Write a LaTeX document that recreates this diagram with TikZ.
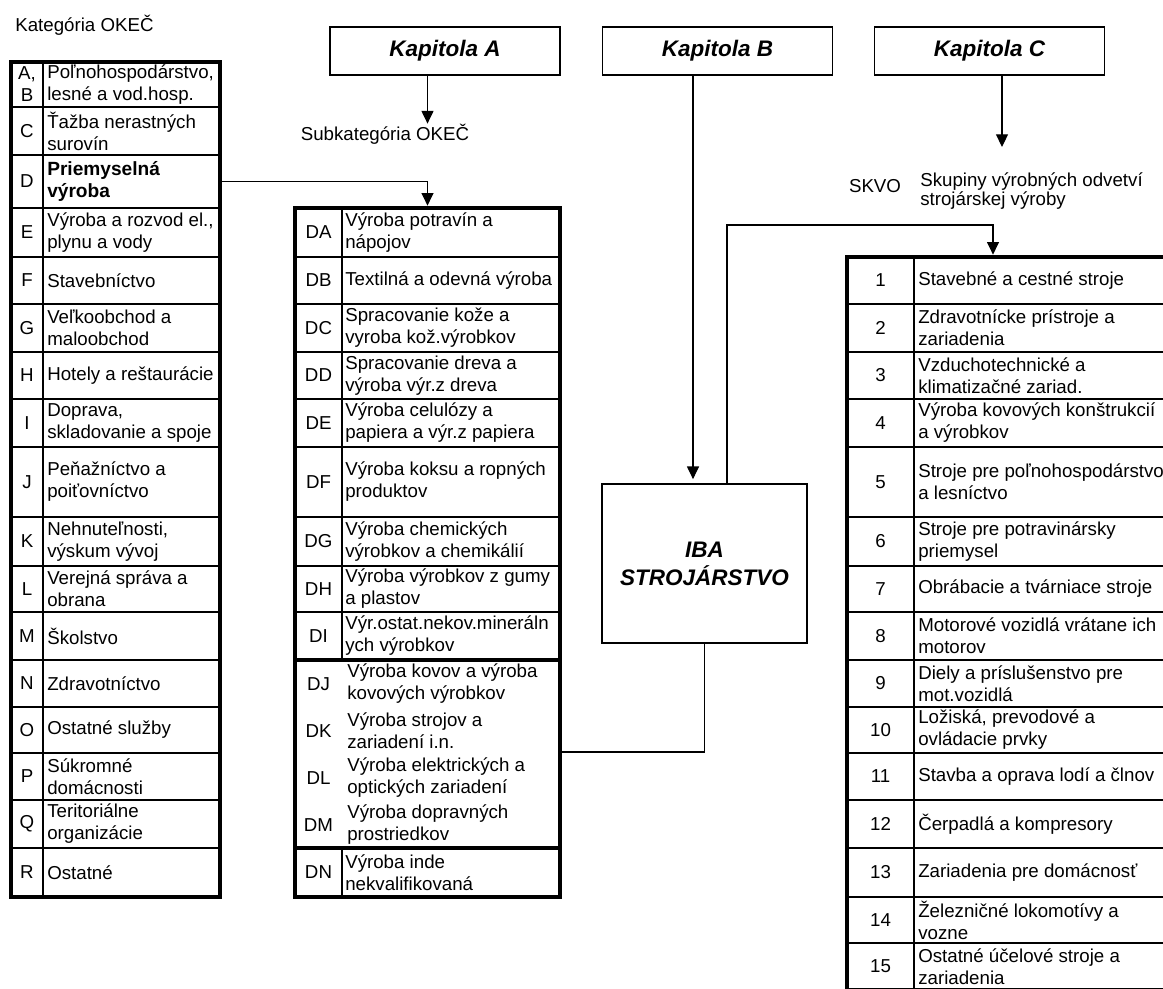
\documentclass[tikz,border=0pt]{standalone}
\usepackage{fontspec}
\setmainfont{Liberation Sans}
\usetikzlibrary{arrows.meta}

\begin{document}
\begin{tikzpicture}[x=0.025cm, y=-0.025cm,
    font=\fontsize{13.3}{15.6}\selectfont,
    arr/.style={-{Triangle[width=8.5pt,length=9pt]}, line width=0.8pt},
    link/.style={line width=0.8pt},
    kap/.style={draw, line width=0.9pt, minimum width=5.75cm, minimum height=1.2cm,
        font=\fontsize{16}{19}\selectfont\bfseries\itshape},
    tabframe/.style={draw, line width=3.2pt, inner sep=0pt},
    rowsep/.style={line width=1.5pt},
    thinsep/.style={line width=0.8pt},
    heavysep/.style={line width=2.8pt},
    divider/.style={line width=1.3pt},
    code/.style={inner sep=0pt, align=center},
    cell/.style={inner sep=0pt, anchor=west, align=left}]
    \useasboundingbox (0,0) rectangle (1163,988);
    \clip (0,0) rectangle (1163,988);

    % chapters
    \node[kap] (kapA) at (445,51) {Kapitola A};
    \node[kap] (kapB) at (717.5,51) {Kapitola B};
    \node[kap] (kapC) at (989.5,51) {Kapitola C};

    \node[anchor=west, inner sep=0pt] (kat) at (15,25) {Kategória OKEČ};
    \node[inner sep=0pt] (subkat) at (385,134) {Subkategória OKEČ};
    \node[inner sep=0pt] (skvolab) at (875,186) {SKVO};
    \node[cell, font=\fontsize{13.3}{14}\selectfont] (skup) at (920,191) {Skupiny výrobných odvetví\\strojárskej výroby};

    \node[draw, line width=0.9pt, minimum width=5.125cm, minimum height=3.975cm, align=center,
        font=\fontsize{16}{20}\selectfont\bfseries\itshape] (iba) at (704.5,563.5) {IBA\\STROJÁRSTVO};

    % table frames
    \node[tabframe, minimum width=5.225cm, minimum height=20.875cm] (okec) at (115.5,479.5) {};
    \node[tabframe, minimum width=6.625cm, minimum height=17.225cm] (subok) at (427.5,552.5) {};
    \node[tabframe, minimum width=9.825cm, minimum height=18.325cm] (skvo) at (1043.5,623.5) {};

    % left table
    \foreach \y in {155,208,257,304,352,399,447,517,612,660,707,753,800,848}
        \draw[rowsep] (11,\y) -- (220,\y);
    \foreach \y in {107,566}
        \draw[thinsep] (11,\y) -- (220,\y);
    \draw[divider] (43,62) -- (43,897);

    \node[code] (kAB) at (27,84.5) {A,\\B};
    \node[cell] (tAB) at (47,84.5) {Poľnohospodárstvo,\\lesné a vod.hosp.};
    \node[code] (kC) at (27,131) {C};
    \node[cell] (tC) at (47,131) {Ťažba nerastných\\surovín};
    \node[code] (kD) at (27,181.5) {D};
    \node[cell, font=\fontsize{13.6}{15.6}\selectfont\bfseries] (tD) at (47,181.5) {Priemyselná\\výroba};
    \node[code] (kE) at (27,232.5) {E};
    \node[cell] (tE) at (47,232.5) {Výroba a rozvod el.,\\plynu a vody};
    \node[code] (kF) at (27,280.5) {F};
    \node[cell] (tF) at (47,280.5) {Stavebníctvo};
    \node[code] (kG) at (27,328) {G};
    \node[cell] (tG) at (47,328) {Veľkoobchod a\\maloobchod};
    \node[code] (kH) at (27,375.5) {H};
    \node[cell] (tH) at (47,375.5) {Hotely a reštaurácie};
    \node[code] (kI) at (27,423) {I};
    \node[cell] (tI) at (47,423) {Doprava,\\skladovanie a spoje};
    \node[code] (kJ) at (27,482) {J};
    \node[cell] (tJ) at (47,482) {Peňažníctvo a\\poiťovníctvo};
    \node[code] (kK) at (27,541.5) {K};
    \node[cell] (tK) at (47,541.5) {Nehnuteľnosti,\\výskum vývoj};
    \node[code] (kL) at (27,589) {L};
    \node[cell] (tL) at (47,589) {Verejná správa a\\obrana};
    \node[code] (kM) at (27,636) {M};
    \node[cell] (tM) at (47,636) {Školstvo};
    \node[code] (kN) at (27,683.5) {N};
    \node[cell] (tN) at (47,683.5) {Zdravotníctvo};
    \node[code] (kO) at (27,730) {O};
    \node[cell] (tO) at (47,730) {Ostatné služby};
    \node[code] (kP) at (27,776.5) {P};
    \node[cell] (tP) at (47,776.5) {Súkromné\\domácnosti};
    \node[code] (kQ) at (27,824) {Q};
    \node[cell] (tQ) at (47,824) {Teritoriálne\\organizácie};
    \node[code] (kR) at (27,872.5) {R};
    \node[cell] (tR) at (47,872.5) {Ostatné};

    % middle table
    \foreach \y in {257,304,447,517}
        \draw[rowsep] (295,\y) -- (560,\y);
    \foreach \y in {352,399,566,612}
        \draw[thinsep] (295,\y) -- (560,\y);
    \foreach \y in {660,848}
        \draw[heavysep] (295,\y) -- (560,\y);
    \draw[divider] (342,208) -- (342,660);
    \draw[divider] (342,848) -- (342,897);

    \node[code] (kDA) at (318.5,232.5) {DA};
    \node[cell] (tDA) at (345,232.5) {Výroba potravín a\\nápojov};
    \node[code] (kDB) at (318.5,280.5) {DB};
    \node[cell] (tDB) at (345,280.5) {Textilná a odevná výroba};
    \node[code] (kDC) at (318.5,328) {DC};
    \node[cell] (tDC) at (345,328) {Spracovanie kože a\\vyroba kož.výrobkov};
    \node[code] (kDD) at (318.5,375.5) {DD};
    \node[cell] (tDD) at (345,375.5) {Spracovanie dreva a\\výroba výr.z dreva};
    \node[code] (kDE) at (318.5,423) {DE};
    \node[cell] (tDE) at (345,423) {Výroba celulózy a\\papiera a výr.z papiera};
    \node[code] (kDF) at (318.5,482) {DF};
    \node[cell] (tDF) at (345,482) {Výroba koksu a ropných\\produktov};
    \node[code] (kDG) at (318.5,541.5) {DG};
    \node[cell] (tDG) at (345,541.5) {Výroba chemických\\výrobkov a chemikálií};
    \node[code] (kDH) at (318.5,589) {DH};
    \node[cell] (tDH) at (345,589) {Výroba výrobkov z gumy\\a plastov};
    \node[code] (kDI) at (318.5,636) {DI};
    \node[cell] (tDI) at (345,636) {Výr.ostat.nekov.mineráln\\ych výrobkov};
    \node[code] (kDJ) at (318.5,684) {DJ};
    \node[cell] (tDJ) at (347,684) {Výroba kovov a výroba\\kovových výrobkov};
    \node[code] (kDK) at (318.5,731) {DK};
    \node[cell] (tDK) at (347,731) {Výroba strojov a\\zariadení i.n.};
    \node[code] (kDL) at (318.5,778) {DL};
    \node[cell] (tDL) at (347,778) {Výroba elektrických a\\optických zariadení};
    \node[code] (kDM) at (318.5,825) {DM};
    \node[cell] (tDM) at (347,825) {Výroba dopravných\\prostriedkov};
    \node[code] (kDN) at (318.5,872.5) {DN};
    \node[cell] (tDN) at (345,872.5) {Výroba inde\\nekvalifikovaná};

    % right table
    \foreach \y in {352,399,447,517,566,612,660,707,753,800,848,897,943}
        \draw[rowsep] (847,\y) -- (1240,\y);
    \draw[thinsep] (847,304) -- (1240,304);
    \draw[divider] (914,257) -- (914,990);

    \node[code] (k1) at (880.5,280.5) {1};
    \node[cell] (t1) at (918,280.5) {Stavebné a cestné stroje};
    \node[code] (k2) at (880.5,328) {2};
    \node[cell] (t2) at (918,328) {Zdravotnícke prístroje a\\zariadenia};
    \node[code] (k3) at (880.5,375.5) {3};
    \node[cell] (t3) at (918,375.5) {Vzduchotechnické a\\klimatizačné zariad.};
    \node[code] (k4) at (880.5,423) {4};
    \node[cell] (t4) at (918,423) {Výroba kovových konštrukcií\\a výrobkov};
    \node[code] (k5) at (880.5,482) {5};
    \node[cell] (t5) at (918,482) {Stroje pre poľnohospodárstvo\\a lesníctvo};
    \node[code] (k6) at (880.5,541.5) {6};
    \node[cell] (t6) at (918,541.5) {Stroje pre potravinársky\\priemysel};
    \node[code] (k7) at (880.5,589) {7};
    \node[cell] (t7) at (918,589) {Obrábacie a tvárniace stroje};
    \node[code] (k8) at (880.5,636) {8};
    \node[cell] (t8) at (918,636) {Motorové vozidlá vrátane ich\\motorov};
    \node[code] (k9) at (880.5,683.5) {9};
    \node[cell] (t9) at (918,683.5) {Diely a príslušenstvo pre\\mot.vozidlá};
    \node[code] (k10) at (880.5,730) {10};
    \node[cell] (t10) at (918,730) {Ložiská, prevodové a\\ovládacie prvky};
    \node[code] (k11) at (880.5,776.5) {11};
    \node[cell] (t11) at (918,776.5) {Stavba a oprava lodí a člnov};
    \node[code] (k12) at (880.5,824) {12};
    \node[cell] (t12) at (918,824) {Čerpadlá a kompresory};
    \node[code] (k13) at (880.5,872.5) {13};
    \node[cell] (t13) at (918,872.5) {Zariadenia pre domácnosť};
    \node[code] (k14) at (880.5,920) {14};
    \node[cell] (t14) at (918,920) {Železničné lokomotívy a\\vozne};
    \node[code] (k15) at (880.5,966.5) {15};
    \node[cell] (t15) at (918,966.5) {Ostatné účelové stroje a\\zariadenia};

    % connectors
    \coordinate (bline) at (693,300);
    \coordinate (cend) at (1002,147);
    \coordinate (up) at (727,225);
    \coordinate (over) at (993,225);
    \coordinate (join) at (560,752);
    \draw[arr] (kapA.south -| subok.north) -- (subkat.north -| subok.north);
    \draw[arr] (okec.east |- tD) -| (subok.north);
    \draw[arr, shorten >=3pt] (kapB.south -| bline) -- (iba.north -| bline);
    \draw[arr] (kapC.south -| cend) -- (cend);
    \draw[arr] (iba.north -| up) -- (up) -- (over) -- (over |- skvo.north);
    \draw[link] (iba.south) |- (subok.east |- join);
\end{tikzpicture}
\end{document}
